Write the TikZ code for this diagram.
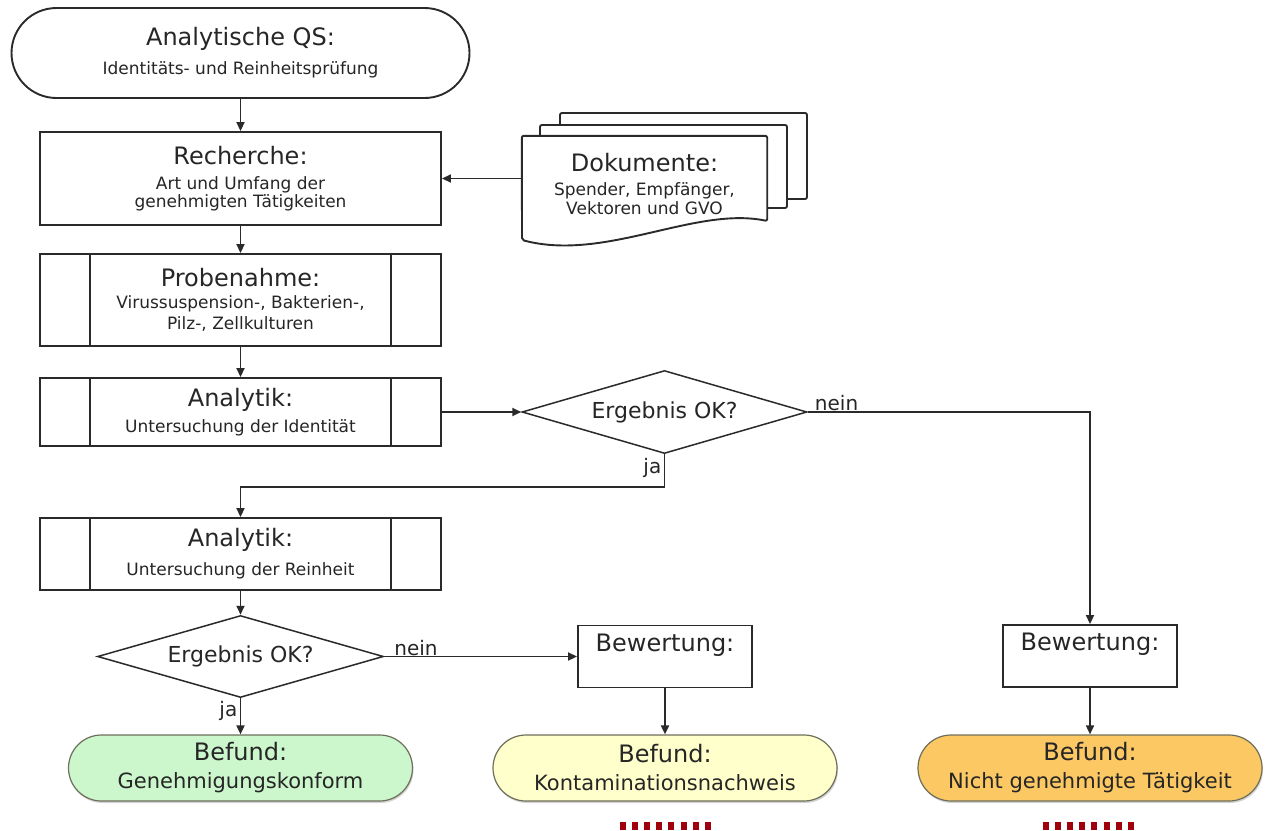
\documentclass[tikz,border=0pt]{standalone}
\usepackage{fontspec}
\setmainfont{DejaVu Sans}
\usetikzlibrary{arrows.meta,shapes.geometric,shadows}
\definecolor{ln}{HTML}{2A2A2A}
\definecolor{befgreen}{HTML}{CCF7CC}
\definecolor{befyellow}{HTML}{FFFFCC}
\definecolor{beforange}{HTML}{FCC864}
\definecolor{befline}{HTML}{6E6E5A}
\definecolor{dred}{HTML}{A0000E}
\newcommand{\mytitle}{\fontsize{24}{28}\selectfont}
\newcommand{\mysub}{\fontsize{17}{19}\selectfont}
\newcommand{\mydec}{\fontsize{22}{24}\selectfont}
\newcommand{\mybef}{\fontsize{21}{26}\selectfont}
\begin{document}
\begin{tikzpicture}[x=1pt,y=-1pt,
  box/.style={draw=ln, line width=1.9pt, fill=white, inner sep=0pt, align=center, text=black!85, font=\mysub},
  procbox/.style={box, path picture={\draw[ln,line width=1.9pt]
     ([xshift=50pt]path picture bounding box.north west) -- ([xshift=50pt]path picture bounding box.south west)
     ([xshift=-50pt]path picture bounding box.north east) -- ([xshift=-50pt]path picture bounding box.south east);}},
  term/.style={box, rounded corners=45pt},
  dec/.style={draw=ln, line width=1.5pt, shape=diamond, shape aspect=3.4, fill=white, inner sep=0pt, font=\mydec, text=black!85},
  bef/.style={draw=befline, line width=1.2pt, rounded corners=33pt, minimum width=344pt, minimum height=66pt,
     align=center, inner sep=0pt, text=black!85, font=\mybef,
     drop shadow={shadow xshift=1pt, shadow yshift=-2pt, opacity=0.35}},
  docshape/.style={draw=ln, line width=1.9pt, fill=white, rounded corners=2pt},
  arr/.style={draw=ln, line width=1.8pt, -{Triangle[length=9pt,width=8pt]}},
  lbl/.style={font=\fontsize{20}{22}\selectfont, inner sep=0pt, text=black!85},
  reddash/.style={draw=dred, line width=8pt, dash pattern=on 6pt off 6.1pt}
]
\useasboundingbox (0,0) rectangle (1266,830);

% start
\node[term, minimum width=458pt, minimum height=90pt] (qs) at (240.5,53)
  {\mytitle Analytische QS:\\[10pt]Identitäts- und Reinheitsprüfung};

% Recherche
\node[box, minimum width=401pt, minimum height=93pt] (rech) at (240.5,178.5)
  {\mytitle Recherche:\\[6pt]Art und Umfang der\\[-1pt]genehmigten Tätigkeiten};

% Dokumente (multi-document)
\draw[docshape] (560,113) rectangle (807,199);
\draw[docshape] (540,125) rectangle (787,208);
\node[minimum width=245pt, minimum height=85pt, inner sep=0pt] (doc) at (644.5,178.5) {};
\draw[docshape] (doc.north west) -- (doc.north east) -- ([yshift=-42.5pt]doc.east)
   .. controls (695,206) and (605,262) .. (522,240) -- cycle;
\node[align=center, inner sep=0pt, text=black!85, font=\mysub] (doctxt) at (644.5,184)
  {\mytitle Dokumente:\\[5pt]Spender, Empfänger,\\[0pt]Vektoren und GVO};

% Probenahme
\node[procbox, minimum width=401pt, minimum height=92pt] (probe) at (240.5,300)
  {\mytitle Probenahme:\\[3pt]Virussuspension-, Bakterien-,\\[2pt]Pilz-, Zellkulturen};

% Analytik 1
\node[procbox, minimum width=401pt, minimum height=68pt] (ana1) at (240.5,412)
  {\mytitle Analytik:\\[7pt]Untersuchung der Identität};

% decision 1
\node[dec, minimum width=285pt, minimum height=83pt] (d1) at (664.5,412) {Ergebnis OK?};

% Analytik 2
\node[procbox, minimum width=401pt, minimum height=72pt] (ana2) at (240.5,554)
  {\mytitle Analytik:\\[10pt]Untersuchung der Reinheit};

% decision 2
\node[dec, minimum width=286pt, minimum height=82pt] (d2) at (240.5,656.5) {Ergebnis OK?};

% Bewertung boxes
\node[box, minimum width=174pt, minimum height=62pt,
  label={[font=\mytitle, anchor=north, inner sep=0pt, yshift=-9pt, text=black!85]north:Bewertung:}] (bew1) at (665,656.5) {};
\node[box, minimum width=174pt, minimum height=62pt,
  label={[font=\mytitle, anchor=north, inner sep=0pt, yshift=-9pt, text=black!85]north:Bewertung:}] (bew2) at (1090,656) {};

% Befund nodes
\node[bef, fill=befgreen] (bef1) at (240.5,768) {\mytitle Befund:\\[2pt]Genehmigungskonform};
\node[bef, fill=befyellow] (bef2) at (665,768) {\mytitle Befund:\\[2pt]Kontaminationsnachweis};
\node[bef, fill=beforange] (bef3) at (1090,768) {\mytitle Befund:\\[2pt]Nicht genehmigte Tätigkeit};

% connectors
\draw[arr] (qs.south) -- (rech.north);
\draw[arr] (doc.west) -- (rech.east);
\draw[arr] (rech.south) -- (probe.north);
\draw[arr] (probe.south) -- (ana1.north);
\draw[arr] (ana1.east) -- (d1.west);
\draw[arr] (d1.east) -| (bew2.north);
\node[lbl, anchor=south west] (nein1) at ([xshift=7pt,yshift=1pt]d1.east) {nein};
\coordinate (j1) at (664.5,487);
\draw[arr] (d1.south) -- (j1) -| (ana2.north);
\node[lbl, anchor=north east] (ja1) at ([xshift=-3pt,yshift=-4pt]d1.south) {ja};
\draw[arr] (ana2.south) -- (d2.north);
\draw[arr] (d2.east) -- (bew1.west);
\node[lbl, anchor=south west] (nein2) at ([xshift=10pt,yshift=1pt]d2.east) {nein};
\draw[arr] (d2.south) -- (bef1.north);
\node[lbl, anchor=north east] (ja2) at ([xshift=-3pt,yshift=-3pt]d2.south) {ja};
\draw[arr] (bew1.south) -- (bef2.north);
\draw[arr] (bew2.south) -- (bef3.north);

% red marks
\draw[reddash] (620,826) -- (712,826);
\draw[reddash] (1043,826) -- (1135,826);
\end{tikzpicture}
\end{document}
